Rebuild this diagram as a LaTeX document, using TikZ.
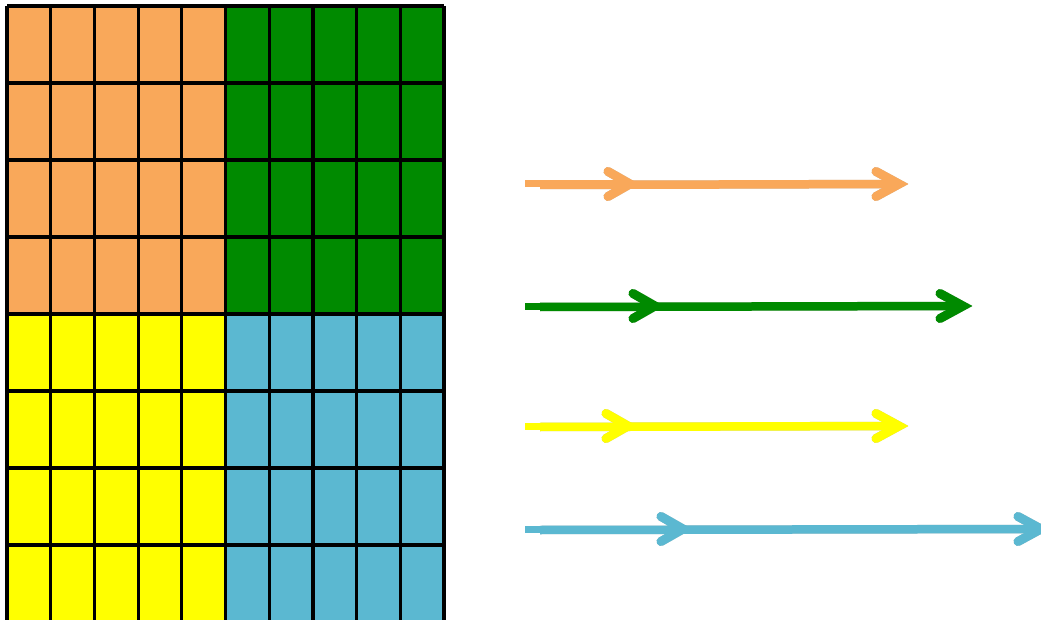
\documentclass[tikz,border=0pt]{standalone}
\usetikzlibrary{calc}
\definecolor{cOr}{HTML}{F9A85A}
\definecolor{cGr}{HTML}{008A00}
\definecolor{cYe}{HTML}{FFFF00}
\definecolor{cBl}{HTML}{5BB8D1}
\tikzset{
  gridline/.style={line width=3.2pt, black},
  shaft/.style={line width=8.5pt},
  shaftthin/.style={line width=7pt},
  headline/.style={line width=9pt, line cap=round, line join=miter},
  shade/.style={black, opacity=0.22},
}
% #1 colour, #2 y, #3 mid tip x (visual), #4 end tip x (visual)
\newcommand{\myarrow}[4]{%
  \coordinate (s1) at (525,#2);
  \coordinate (s2) at (540,#2+1);
  \coordinate (m) at (#3-8,#2);
  \coordinate (e) at (#4-8,#2);
  % shadow
  \begin{scope}[shift={(2,4)}]
    \draw[shaft,shade] (s2) -- (e);
    \draw[headline,shade] ($(m)+(-22,-12.5)$) -- (m) -- ($(m)+(-22,12.5)$);
    \draw[headline,shade] ($(e)+(-23,-12.5)$) -- (e) -- ($(e)+(-23,12.5)$);
  \end{scope}
  \draw[shaftthin,#1] (s1) -- (m);
  \draw[shaft,#1] (s2) -- (e);
  \draw[headline,#1] ($(m)+(-22,-12.5)$) -- (m) -- ($(m)+(-22,12.5)$);
  \draw[headline,#1] ($(e)+(-23,-12.5)$) -- (e) -- ($(e)+(-23,12.5)$);
}
\begin{document}
\begin{tikzpicture}[x=1pt,y=-1pt]
\useasboundingbox (0,0) rectangle (1041,620);
\clip (0,0) rectangle (1041,620);
\def\cw{43.7}
\def\rh{77}
% quadrants
\fill[cOr] (7,6) rectangle ({7+5*\cw},{6+4*\rh});
\fill[cGr] ({7+5*\cw},6) rectangle ({7+10*\cw},{6+4*\rh});
\fill[cYe] (7,{6+4*\rh}) rectangle ({7+5*\cw},{6+8*\rh});
\fill[cBl] ({7+5*\cw},{6+4*\rh}) rectangle ({7+10*\cw},{6+8*\rh});
% grid lines
\foreach \i in {0,...,10} {
  \draw[gridline] ({7+\i*\cw},6) -- ({7+\i*\cw},{6+8*\rh});
}
\foreach \j in {0,...,8} {
  \draw[gridline] (7,{6+\j*\rh}) -- ({7+10*\cw},{6+\j*\rh});
}
% arrows
\myarrow{cOr}{184}{638}{907}
\myarrow{cGr}{306}{663}{971}
\myarrow{cYe}{426}{636}{907}
\myarrow{cBl}{529}{691}{1049}
\end{tikzpicture}
\end{document}
